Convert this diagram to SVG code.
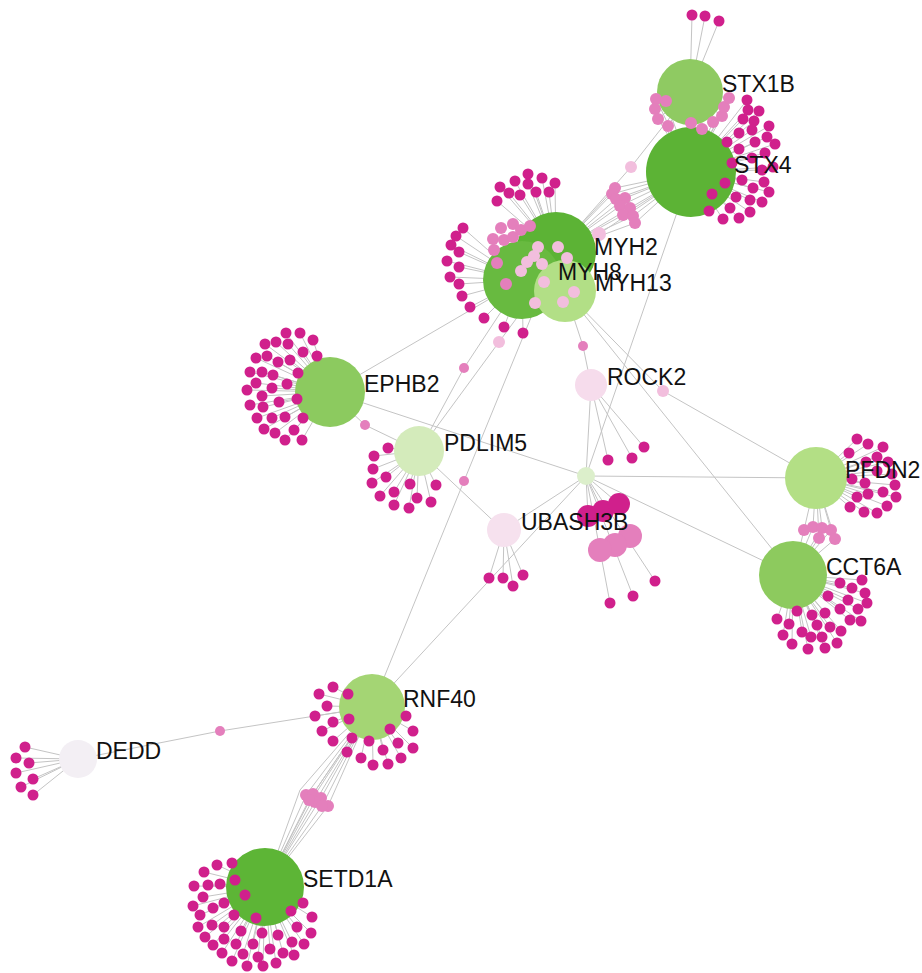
<svg xmlns="http://www.w3.org/2000/svg" width="922" height="973" viewBox="0 0 922 973">
<style>
.e{stroke:#c4c4c4;stroke-width:1;fill:none}
.d{fill:#d0208c}
.m{fill:#e47fbc}
.l{fill:#f2bedd}
#leaves circle{r:5.5px}
text{font-family:"Liberation Sans",Arial,sans-serif;font-size:23px;fill:#111}
</style>
<rect width="922" height="973" fill="#ffffff"/>
<g id="connectors" class="e">
<path d="M522 280L330 392M419 451L464 368L522 280M419 451L499 342L530 300M372 707L464 481L532 315M330 392L365 425L419 451M330 392L586 476M419 451L503 530M586 476L372 707M586 476L503 530M586 476L816 478M586 476L793 575M586 476L691 172M586 476L591 385M591 385L583 346L565 291M565 291L663 391L816 478M565 291L793 575M556 252L631 167L690 92M78 759L220 731L372 707"/>
<path d="M586 476L588 516M586 476L603 511M586 476L619 504M586 476L610 603M586 476L633 596M586 476L655 581"/>
<path d="M556 252L615 188L691 172M556 252L612 194L691 172M556 252L616 199L691 172M556 252L625 198L691 172M556 252L620 206L691 172M556 252L630 208L691 172M556 252L623 215L691 172M556 252L633 216L691 172M556 252L635 223L691 172M599 234L691 172"/>
<path d="M690 92L656 99L691 172M690 92L666 101L691 172M690 92L655 109L691 172M690 92L658 119L691 172M690 92L668 126L691 172M690 92L702 129L691 172M690 92L713 122L691 172M690 92L722 116L691 172M690 92L724 107L691 172M690 92L729 98L691 172"/>
<path d="M816 478L804 530L793 575M816 478L813 527L793 575M816 478L822 528L793 575M816 478L831 530L793 575M816 478L819 538L793 575M816 478L835 539L793 575"/>
<path d="M372 707L306 795L265 887M372 707L313 794L265 887M372 707L321 798L265 887M372 707L315 802L265 887M372 707L328 806L265 887M372 707L322 806L265 887M372 707L309 800L265 887M372 707L300 790L265 887M372 707L318 790L265 887"/>
<path d="M690 92L692 15M690 92L705 16M690 92L719 21"/>
<path d="M691 172L747 100M691 172L748 110M691 172L759 111M691 172L743 119M691 172L754 121M691 172L769 126M691 172L739 133M691 172L752 130M691 172L767 137M691 172L727 142M691 172L739 149M691 172L755 142M691 172L775 144M691 172L732 163M691 172L752 158M691 172L765 153M691 172L773 167M691 172L762 170M691 172L742 180M691 172L764 182M691 172L725 183M691 172L753 188M691 172L769 192M691 172L712 194M691 172L736 197M691 172L750 200M691 172L762 202M691 172L709 211M691 172L730 208M691 172L750 212M691 172L723 219M691 172L739 218"/>
<path d="M556 252L528 174M556 252L542 178M556 252L555 183M556 252L515 181M556 252L528 184M556 252L500 187M556 252L509 193M556 252L520 195M556 252L536 192M556 252L549 192M556 252L497 201"/>
<path d="M522 280L463 228M522 280L456 236M522 280L451 245M522 280L459 252M522 280L447 261M522 280L459 267M522 280L450 277M522 280L459 284M522 280L462 296M522 280L470 307M522 280L484 318M522 280L504 327M522 280L523 333"/>
<path d="M330 392L286 333M330 392L300 333M330 392L313 340M330 392L265 344M330 392L276 342M330 392L288 344M330 392L303 352M330 392L317 356M330 392L256 358M330 392L267 356M330 392L278 362M330 392L290 360M330 392L250 372M330 392L262 372M330 392L273 375M330 392L298 373M330 392L256 383M330 392L247 390M330 392L272 388M330 392L287 384M330 392L262 396M330 392L250 405M330 392L263 407M330 392L279 402M330 392L297 399M330 392L257 418M330 392L272 418M330 392L285 417M330 392L303 418M330 392L264 429M330 392L275 433M330 392L294 430M330 392L285 440M330 392L302 440"/>
<path d="M419 451L388 448M419 451L374 456M419 451L373 469M419 451L386 477M419 451L372 483M419 451L380 496M419 451L394 492M419 451L410 484M419 451L394 505M419 451L409 508M419 451L417 498M419 451L431 502M419 451L436 485"/>
<path d="M591 385L608 460M591 385L632 458M591 385L644 447M504 530L489 578M504 530L503 578M504 530L513 586M504 530L523 575"/>
<path d="M816 478L857 439M816 478L868 444M816 478L883 447M816 478L849 453M816 478L877 457M816 478L866 462M816 478L888 462M816 478L877 471M816 478L892 474M816 478L852 479M816 478L865 483M816 478L895 485M816 478L868 494M816 478L883 492M816 478L896 497M816 478L857 497M816 478L887 506M816 478L877 513M816 478L864 512M816 478L850 507"/>
<path d="M793 575L840 583M793 575L852 588M793 575L862 580M793 575L865 593M793 575L828 596M793 575L848 600M793 575L867 603M793 575L840 609M793 575L858 609M793 575L825 613M793 575L850 620M793 575L861 621M793 575L812 615M793 575L797 611M793 575L777 619M793 575L789 624M793 575L802 632M793 575L817 625M793 575L830 627M793 575L841 631M793 575L783 635M793 575L811 637M793 575L822 637M793 575L792 644M793 575L808 649M793 575L825 648M793 575L837 643"/>
<path d="M78 759L25 747M78 759L16 758M78 759L29 763M78 759L16 773M78 759L33 779M78 759L21 787M78 759L33 795"/>
<path d="M372 707L333 687M372 707L319 694M372 707L348 694M372 707L327 706M372 707L315 716M372 707L333 722M372 707L349 719M372 707L322 731M372 707L333 741M372 707L352 738M372 707L347 752M372 707L361 758M372 707L369 741M372 707L373 765M372 707L383 750M372 707L388 764M372 707L390 729M372 707L398 743M372 707L401 758M372 707L413 731M372 707L413 748M372 707L406 716"/>
<path d="M265 887L217 865M265 887L232 863M265 887L204 872M265 887L235 880M265 887L194 886M265 887L208 885M265 887L220 884M265 887L245 895M265 887L203 897M265 887L224 903M265 887L193 906M265 887L213 908M265 887L234 915M265 887L256 918M265 887L200 915M265 887L198 927M265 887L212 925M265 887L224 927M265 887L241 931M265 887L262 933M265 887L278 935M265 887L297 927M265 887L311 933M265 887L312 917M265 887L303 903M265 887L291 911M265 887L205 937M265 887L213 945M265 887L224 939M265 887L236 944M265 887L253 944M265 887L270 949M265 887L292 942M265 887L304 944M265 887L222 953M265 887L243 954M265 887L258 957M265 887L283 953M265 887L294 955M265 887L232 961M265 887L247 966M265 887L263 966M265 887L276 963"/>
</g>
<g id="STX1B"><circle cx="690" cy="92" r="33" fill="#8fca62"/></g>
<g id="STX4"><circle cx="691" cy="172" r="45" fill="#5cb335"/></g>
<g id="MYH2"><circle cx="556" cy="252" r="40" fill="#5cb335"/></g>
<g id="MYH8"><circle cx="522" cy="280" r="39" fill="#68ba40"/></g>
<g id="MYH13"><circle cx="565" cy="291" r="31" fill="#b2df86"/></g>
<g id="EPHB2"><circle cx="330" cy="392" r="35" fill="#8cca5f"/></g>
<g id="PDLIM5"><circle cx="419" cy="451" r="25" fill="#d4ebbb"/></g>
<g id="ROCK2"><circle cx="591" cy="385" r="16" fill="#f6dcec"/></g>
<g id="hub"><circle cx="586" cy="476" r="9" fill="#dcefcb"/></g>
<g id="UBASH3B"><circle cx="504" cy="530" r="17" fill="#f6e1ee"/></g>
<g id="PFDN2"><circle cx="816" cy="478" r="31" fill="#b3df85"/></g>
<g id="CCT6A"><circle cx="793" cy="575" r="34" fill="#8dca5e"/></g>
<g id="DEDD"><circle cx="78" cy="759" r="19" fill="#f3eff4"/></g>
<g id="RNF40"><circle cx="372" cy="707" r="33" fill="#a4d574"/></g>
<g id="SETD1A"><circle cx="265" cy="887" r="39" fill="#5db536"/></g>
<g id="blobs">
<circle class="d" cx="588" cy="516" r="11"/><circle class="d" cx="603" cy="511" r="11"/><circle class="d" cx="619" cy="504" r="11"/>
<circle class="m" cx="630" cy="536" r="12"/><circle class="m" cx="615" cy="545" r="12"/><circle class="m" cx="600" cy="550" r="12"/>
</g>
<g id="connector-dots">
<circle class="l" cx="631" cy="167" r="6"/><circle class="l" cx="599" cy="234" r="7"/>
<circle class="m" cx="615" cy="188" r="6"/><circle class="m" cx="612" cy="194" r="6"/><circle class="m" cx="616" cy="199" r="6"/><circle class="m" cx="625" cy="198" r="6"/><circle class="m" cx="620" cy="206" r="6"/><circle class="m" cx="630" cy="208" r="6"/><circle class="m" cx="623" cy="215" r="6"/><circle class="m" cx="633" cy="216" r="6"/><circle class="m" cx="635" cy="223" r="6"/>
<circle class="m" cx="656" cy="99" r="6"/><circle class="m" cx="666" cy="101" r="6"/><circle class="m" cx="655" cy="109" r="6"/><circle class="m" cx="658" cy="119" r="6"/><circle class="m" cx="668" cy="126" r="6"/><circle class="m" cx="691" cy="123" r="6"/><circle class="m" cx="702" cy="129" r="6"/><circle class="m" cx="713" cy="122" r="6"/><circle class="m" cx="722" cy="116" r="6"/><circle class="m" cx="724" cy="107" r="6"/><circle class="m" cx="729" cy="98" r="6"/>
<circle class="m" cx="501" cy="228" r="6"/><circle class="m" cx="513" cy="224" r="6"/><circle class="m" cx="493" cy="239" r="6"/><circle class="m" cx="504" cy="240" r="6"/><circle class="m" cx="513" cy="237" r="6"/><circle class="m" cx="521" cy="230" r="6"/><circle class="m" cx="530" cy="226" r="6"/><circle class="m" cx="494" cy="250" r="6"/><circle class="m" cx="497" cy="263" r="6"/><circle class="m" cx="506" cy="284" r="6"/>
<circle class="l" cx="538" cy="247" r="6"/><circle class="l" cx="558" cy="247" r="6"/><circle class="l" cx="534" cy="256" r="6"/><circle class="l" cx="527" cy="262" r="6"/><circle class="l" cx="521" cy="271" r="6"/><circle class="l" cx="542" cy="264" r="6"/><circle class="l" cx="567" cy="258" r="6"/><circle class="l" cx="544" cy="282" r="6"/><circle class="l" cx="574" cy="292" r="6"/><circle class="l" cx="563" cy="302" r="6"/><circle class="l" cx="535" cy="303" r="6"/>
<circle class="l" cx="499" cy="342" r="6"/><circle class="m" cx="583" cy="346" r="5"/><circle class="m" cx="464" cy="368" r="5"/><circle class="m" cx="464" cy="481" r="5"/><circle class="m" cx="365" cy="425" r="5"/><circle class="l" cx="663" cy="391" r="6"/><circle class="m" cx="220" cy="731" r="5"/>
<circle class="m" cx="804" cy="530" r="6"/><circle class="m" cx="813" cy="527" r="6"/><circle class="m" cx="822" cy="528" r="6"/><circle class="m" cx="831" cy="530" r="6"/><circle class="m" cx="819" cy="538" r="6"/><circle class="m" cx="835" cy="539" r="6"/>
<circle class="m" cx="306" cy="795" r="6"/><circle class="m" cx="313" cy="794" r="6"/><circle class="m" cx="321" cy="798" r="6"/><circle class="m" cx="315" cy="802" r="6"/><circle class="m" cx="328" cy="806" r="6"/><circle class="m" cx="322" cy="806" r="6"/><circle class="m" cx="309" cy="800" r="6"/>
</g>
<g id="leaves" class="d">
<circle cx="692" cy="15" r="5.5"/><circle cx="705" cy="16" r="5.5"/><circle cx="719" cy="21" r="5.5"/>
<circle cx="747" cy="100" r="5.5"/><circle cx="748" cy="110" r="5.5"/><circle cx="759" cy="111" r="5.5"/><circle cx="743" cy="119" r="5.5"/><circle cx="754" cy="121" r="5.5"/><circle cx="769" cy="126" r="5.5"/><circle cx="739" cy="133" r="5.5"/><circle cx="752" cy="130" r="5.5"/><circle cx="767" cy="137" r="5.5"/><circle cx="727" cy="142" r="5.5"/><circle cx="739" cy="149" r="5.5"/><circle cx="755" cy="142" r="5.5"/><circle cx="775" cy="144" r="5.5"/><circle cx="732" cy="163" r="5.5"/><circle cx="752" cy="158" r="5.5"/><circle cx="765" cy="153" r="5.5"/><circle cx="773" cy="167" r="5.5"/><circle cx="762" cy="170" r="5.5"/><circle cx="742" cy="180" r="5.5"/><circle cx="764" cy="182" r="5.5"/><circle cx="725" cy="183" r="5.5"/><circle cx="753" cy="188" r="5.5"/><circle cx="769" cy="192" r="5.5"/><circle cx="712" cy="194" r="5.5"/><circle cx="736" cy="197" r="5.5"/><circle cx="750" cy="200" r="5.5"/><circle cx="762" cy="202" r="5.5"/><circle cx="709" cy="211" r="5.5"/><circle cx="730" cy="208" r="5.5"/><circle cx="750" cy="212" r="5.5"/><circle cx="723" cy="219" r="5.5"/><circle cx="739" cy="218" r="5.5"/>
<circle cx="528" cy="174" r="5.5"/><circle cx="542" cy="178" r="5.5"/><circle cx="555" cy="183" r="5.5"/><circle cx="515" cy="181" r="5.5"/><circle cx="528" cy="184" r="5.5"/><circle cx="500" cy="187" r="5.5"/><circle cx="509" cy="193" r="5.5"/><circle cx="520" cy="195" r="5.5"/><circle cx="536" cy="192" r="5.5"/><circle cx="549" cy="192" r="5.5"/><circle cx="497" cy="201" r="5.5"/>
<circle cx="463" cy="228" r="5.5"/><circle cx="456" cy="236" r="5.5"/><circle cx="451" cy="245" r="5.5"/><circle cx="459" cy="252" r="5.5"/><circle cx="447" cy="261" r="5.5"/><circle cx="459" cy="267" r="5.5"/><circle cx="450" cy="277" r="5.5"/><circle cx="459" cy="284" r="5.5"/><circle cx="462" cy="296" r="5.5"/><circle cx="470" cy="307" r="5.5"/><circle cx="484" cy="318" r="5.5"/><circle cx="504" cy="327" r="5.5"/><circle cx="523" cy="333" r="5.5"/>
<circle cx="286" cy="333" r="5.5"/><circle cx="300" cy="333" r="5.5"/><circle cx="313" cy="340" r="5.5"/><circle cx="265" cy="344" r="5.5"/><circle cx="276" cy="342" r="5.5"/><circle cx="288" cy="344" r="5.5"/><circle cx="303" cy="352" r="5.5"/><circle cx="317" cy="356" r="5.5"/><circle cx="256" cy="358" r="5.5"/><circle cx="267" cy="356" r="5.5"/><circle cx="278" cy="362" r="5.5"/><circle cx="290" cy="360" r="5.5"/><circle cx="250" cy="372" r="5.5"/><circle cx="262" cy="372" r="5.5"/><circle cx="273" cy="375" r="5.5"/><circle cx="298" cy="373" r="5.5"/><circle cx="256" cy="383" r="5.5"/><circle cx="247" cy="390" r="5.5"/><circle cx="272" cy="388" r="5.5"/><circle cx="287" cy="384" r="5.5"/><circle cx="262" cy="396" r="5.5"/><circle cx="250" cy="405" r="5.5"/><circle cx="263" cy="407" r="5.5"/><circle cx="279" cy="402" r="5.5"/><circle cx="297" cy="399" r="5.5"/><circle cx="257" cy="418" r="5.5"/><circle cx="272" cy="418" r="5.5"/><circle cx="285" cy="417" r="5.5"/><circle cx="303" cy="418" r="5.5"/><circle cx="264" cy="429" r="5.5"/><circle cx="275" cy="433" r="5.5"/><circle cx="294" cy="430" r="5.5"/><circle cx="285" cy="440" r="5.5"/><circle cx="302" cy="440" r="5.5"/>
<circle cx="388" cy="448" r="5.5"/><circle cx="374" cy="456" r="5.5"/><circle cx="373" cy="469" r="5.5"/><circle cx="386" cy="477" r="5.5"/><circle cx="372" cy="483" r="5.5"/><circle cx="380" cy="496" r="5.5"/><circle cx="394" cy="492" r="5.5"/><circle cx="410" cy="484" r="5.5"/><circle cx="394" cy="505" r="5.5"/><circle cx="409" cy="508" r="5.5"/><circle cx="417" cy="498" r="5.5"/><circle cx="431" cy="502" r="5.5"/><circle cx="436" cy="485" r="5.5"/>
<circle cx="608" cy="460" r="5.5"/><circle cx="632" cy="458" r="5.5"/><circle cx="644" cy="447" r="5.5"/>
<circle cx="489" cy="578" r="5.5"/><circle cx="503" cy="578" r="5.5"/><circle cx="513" cy="586" r="5.5"/><circle cx="523" cy="575" r="5.5"/>
<circle cx="610" cy="603" r="5.5"/><circle cx="633" cy="596" r="5.5"/><circle cx="655" cy="581" r="5.5"/>
<circle cx="857" cy="439" r="5.5"/><circle cx="868" cy="444" r="5.5"/><circle cx="883" cy="447" r="5.5"/><circle cx="849" cy="453" r="5.5"/><circle cx="877" cy="457" r="5.5"/><circle cx="866" cy="462" r="5.5"/><circle cx="888" cy="462" r="5.5"/><circle cx="877" cy="471" r="5.5"/><circle cx="892" cy="474" r="5.5"/><circle cx="852" cy="479" r="5.5"/><circle cx="865" cy="483" r="5.5"/><circle cx="895" cy="485" r="5.5"/><circle cx="868" cy="494" r="5.5"/><circle cx="883" cy="492" r="5.5"/><circle cx="896" cy="497" r="5.5"/><circle cx="857" cy="497" r="5.5"/><circle cx="887" cy="506" r="5.5"/><circle cx="877" cy="513" r="5.5"/><circle cx="864" cy="512" r="5.5"/><circle cx="850" cy="507" r="5.5"/>
<circle cx="840" cy="583" r="5.5"/><circle cx="852" cy="588" r="5.5"/><circle cx="862" cy="580" r="5.5"/><circle cx="865" cy="593" r="5.5"/><circle cx="828" cy="596" r="5.5"/><circle cx="848" cy="600" r="5.5"/><circle cx="867" cy="603" r="5.5"/><circle cx="840" cy="609" r="5.5"/><circle cx="858" cy="609" r="5.5"/><circle cx="825" cy="613" r="5.5"/><circle cx="850" cy="620" r="5.5"/><circle cx="861" cy="621" r="5.5"/><circle cx="812" cy="615" r="5.5"/><circle cx="797" cy="611" r="5.5"/><circle cx="777" cy="619" r="5.5"/><circle cx="789" cy="624" r="5.5"/><circle cx="802" cy="632" r="5.5"/><circle cx="817" cy="625" r="5.5"/><circle cx="830" cy="627" r="5.5"/><circle cx="841" cy="631" r="5.5"/><circle cx="783" cy="635" r="5.5"/><circle cx="811" cy="637" r="5.5"/><circle cx="822" cy="637" r="5.5"/><circle cx="792" cy="644" r="5.5"/><circle cx="808" cy="649" r="5.5"/><circle cx="825" cy="648" r="5.5"/><circle cx="837" cy="643" r="5.5"/>
<circle cx="25" cy="747" r="5.5"/><circle cx="16" cy="758" r="5.5"/><circle cx="29" cy="763" r="5.5"/><circle cx="16" cy="773" r="5.5"/><circle cx="33" cy="779" r="5.5"/><circle cx="21" cy="787" r="5.5"/><circle cx="33" cy="795" r="5.5"/>
<circle cx="333" cy="687" r="5.5"/><circle cx="319" cy="694" r="5.5"/><circle cx="348" cy="694" r="5.5"/><circle cx="327" cy="706" r="5.5"/><circle cx="315" cy="716" r="5.5"/><circle cx="333" cy="722" r="5.5"/><circle cx="349" cy="719" r="5.5"/><circle cx="322" cy="731" r="5.5"/><circle cx="333" cy="741" r="5.5"/><circle cx="352" cy="738" r="5.5"/><circle cx="347" cy="752" r="5.5"/><circle cx="361" cy="758" r="5.5"/><circle cx="369" cy="741" r="5.5"/><circle cx="373" cy="765" r="5.5"/><circle cx="383" cy="750" r="5.5"/><circle cx="388" cy="764" r="5.5"/><circle cx="390" cy="729" r="5.5"/><circle cx="398" cy="743" r="5.5"/><circle cx="401" cy="758" r="5.5"/><circle cx="413" cy="731" r="5.5"/><circle cx="413" cy="748" r="5.5"/><circle cx="406" cy="716" r="5.5"/>
<circle cx="217" cy="865" r="5.5"/><circle cx="232" cy="863" r="5.5"/><circle cx="204" cy="872" r="5.5"/><circle cx="235" cy="880" r="5.5"/><circle cx="194" cy="886" r="5.5"/><circle cx="208" cy="885" r="5.5"/><circle cx="220" cy="884" r="5.5"/><circle cx="245" cy="895" r="5.5"/><circle cx="203" cy="897" r="5.5"/><circle cx="224" cy="903" r="5.5"/><circle cx="193" cy="906" r="5.5"/><circle cx="213" cy="908" r="5.5"/><circle cx="234" cy="915" r="5.5"/><circle cx="256" cy="918" r="5.5"/><circle cx="200" cy="915" r="5.5"/><circle cx="198" cy="927" r="5.5"/><circle cx="212" cy="925" r="5.5"/><circle cx="224" cy="927" r="5.5"/><circle cx="241" cy="931" r="5.5"/><circle cx="262" cy="933" r="5.5"/><circle cx="278" cy="935" r="5.5"/><circle cx="297" cy="927" r="5.5"/><circle cx="311" cy="933" r="5.5"/><circle cx="312" cy="917" r="5.5"/><circle cx="303" cy="903" r="5.5"/><circle cx="291" cy="911" r="5.5"/><circle cx="205" cy="937" r="5.5"/><circle cx="213" cy="945" r="5.5"/><circle cx="224" cy="939" r="5.5"/><circle cx="236" cy="944" r="5.5"/><circle cx="253" cy="944" r="5.5"/><circle cx="270" cy="949" r="5.5"/><circle cx="292" cy="942" r="5.5"/><circle cx="304" cy="944" r="5.5"/><circle cx="222" cy="953" r="5.5"/><circle cx="243" cy="954" r="5.5"/><circle cx="258" cy="957" r="5.5"/><circle cx="283" cy="953" r="5.5"/><circle cx="294" cy="955" r="5.5"/><circle cx="232" cy="961" r="5.5"/><circle cx="247" cy="966" r="5.5"/><circle cx="263" cy="966" r="5.5"/><circle cx="276" cy="963" r="5.5"/>
</g>
<g id="labels">
<text x="722" y="92">STX1B</text>
<text x="734" y="173">STX4</text>
<text x="594" y="255">MYH2</text>
<text x="558" y="280">MYH8</text>
<text x="595" y="291">MYH13</text>
<text x="364" y="392">EPHB2</text>
<text x="444" y="451">PDLIM5</text>
<text x="607" y="385">ROCK2</text>
<text x="521" y="530">UBASH3B</text>
<text x="845" y="478">PFDN2</text>
<text x="826" y="575">CCT6A</text>
<text x="96" y="759">DEDD</text>
<text x="403" y="707">RNF40</text>
<text x="303" y="887">SETD1A</text>
</g>
</svg>
